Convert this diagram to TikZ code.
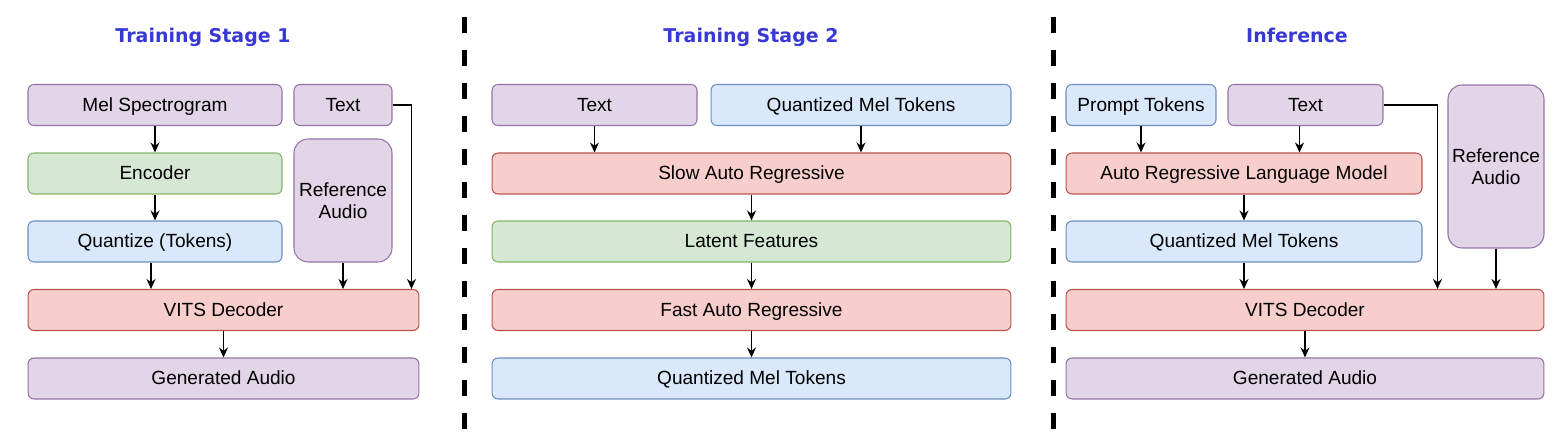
\documentclass[tikz,border=0pt]{standalone}
\usepackage{fontspec}
\setmainfont{Liberation Sans}
\newfontfamily\titlefont{DejaVu Sans}
\usetikzlibrary{arrows.meta,calc}
\definecolor{lilacfill}{HTML}{E1D5E7}
\definecolor{lilacline}{HTML}{9673A6}
\definecolor{sagefill}{HTML}{D5E8D4}
\definecolor{sageline}{HTML}{82B366}
\definecolor{skyfill}{HTML}{DAE8FC}
\definecolor{skyline}{HTML}{6C8EBF}
\definecolor{rosefill}{HTML}{F8CECC}
\definecolor{roseline}{HTML}{B85450}
\definecolor{stageblue}{RGB}{56,56,214}
\begin{document}
\begin{tikzpicture}[x=0.02cm,y=-0.02cm,
  box/.style={rounded corners=0.12cm,line width=0.6pt,minimum height=0.82cm,inner sep=0pt,
    align=center,text height=0.72em,text depth=0pt,font=\fontsize{10.85}{12.5}\selectfont},
  lilac/.style={box,fill=lilacfill,draw=lilacline},
  sage/.style={box,fill=sagefill,draw=sageline},
  sky/.style={box,fill=skyfill,draw=skyline},
  rose/.style={box,fill=rosefill,draw=roseline},
  tall/.style={rounded corners=0.28cm,text height=,text depth=},
  arr/.style={-{Stealth[length=2mm,width=1.8mm]},line width=0.7pt},
  stage/.style={anchor=base,text=stageblue,font=\titlefont\bfseries\fontsize{10.8}{13}\selectfont},
  divider/.style={line width=0.1cm,dash pattern=on 0.32cm off 0.34cm}]
\useasboundingbox (0,0) rectangle (1563,432);

\node[stage] (titleA) at (203,42.7) {Training Stage 1};
\node[stage] (titleB) at (751,42.7) {Training Stage 2};
\node[stage] (titleC) at (1297,42.7) {Inference};

\draw[divider] (464,17) -- (464,430);
\draw[divider] (1053,17) -- (1053,430);

\node[lilac,minimum width=5.08cm] (melA) at (155,105) {Mel Spectrogram};
\node[lilac,minimum width=1.96cm] (txtA) at (343,105) {Text};
\node[sage,minimum width=5.08cm] (encA) at (155,173.5) {Encoder};
\node[sky,minimum width=5.08cm] (quantA) at (155,241.5) {Quantize (Tokens)};
\node[lilac,tall,minimum width=1.96cm,minimum height=2.46cm] (refA) at (343,200.5) {Reference\\Audio};
\node[rose,minimum width=7.82cm] (vitsA) at (223.5,310) {VITS Decoder};
\node[lilac,minimum width=7.82cm] (genA) at (223.5,378.5) {Generated Audio};

\draw[arr] (melA) -- (encA);
\draw[arr] (encA) -- (quantA);
\draw[arr] ([xshift=-0.08cm]quantA.south) -- ([xshift=-0.08cm]quantA.south |- vitsA.north);
\draw[arr] (refA) -- (refA |- vitsA.north);
\draw[arr] (txtA) -| ($(vitsA.north east)+(-8,0)$);
\draw[arr] (vitsA) -- (genA);

\node[lilac,minimum width=4.1cm] (txtB) at (594.5,105) {Text};
\node[sky,minimum width=6cm] (qmtB) at (861,105) {Quantized Mel Tokens};
\node[rose,minimum width=10.38cm] (slowB) at (751.5,173.5) {Slow Auto Regressive};
\node[sage,minimum width=10.38cm] (latB) at (751.5,241.5) {Latent Features};
\node[rose,minimum width=10.38cm] (fastB) at (751.5,310) {Fast Auto Regressive};
\node[sky,minimum width=10.38cm] (outB) at (751.5,378.5) {Quantized Mel Tokens};

\draw[arr] (txtB) -- (txtB |- slowB.north);
\draw[arr] (qmtB) -- (qmtB |- slowB.north);
\draw[arr] (slowB) -- (latB);
\draw[arr] (latB) -- (fastB);
\draw[arr] (fastB) -- (outB);

\node[sky,minimum width=3cm] (promptC) at (1141,105) {Prompt Tokens};
\node[lilac,minimum width=3.1cm] (txtC) at (1305.5,105) {Text};
\node[lilac,tall,minimum width=1.92cm,minimum height=3.26cm] (refC) at (1496,166.5) {Reference\\Audio};
\node[rose,minimum width=7.12cm] (arlmC) at (1244,173.5) {Auto Regressive Language Model};
\node[sky,minimum width=7.12cm] (qmtC) at (1244,241.5) {Quantized Mel Tokens};
\node[rose,minimum width=9.56cm] (vitsC) at (1305,310) {VITS Decoder};
\node[lilac,minimum width=9.56cm] (genC) at (1305,378.5) {Generated Audio};

\draw[arr] (promptC) -- (promptC |- arlmC.north);
\draw[arr] ([xshift=-0.12cm]txtC.south) -- ([xshift=-0.12cm]txtC.south |- arlmC.north);
\draw[arr] (arlmC) -- (qmtC);
\draw[arr] (qmtC) -- (qmtC |- vitsC.north);
\draw[arr] (txtC) -| ($(vitsC.north east)+(-107,0)$);
\draw[arr] (refC) -- (refC |- vitsC.north);
\draw[arr] (vitsC) -- (genC);
\end{tikzpicture}
\end{document}
